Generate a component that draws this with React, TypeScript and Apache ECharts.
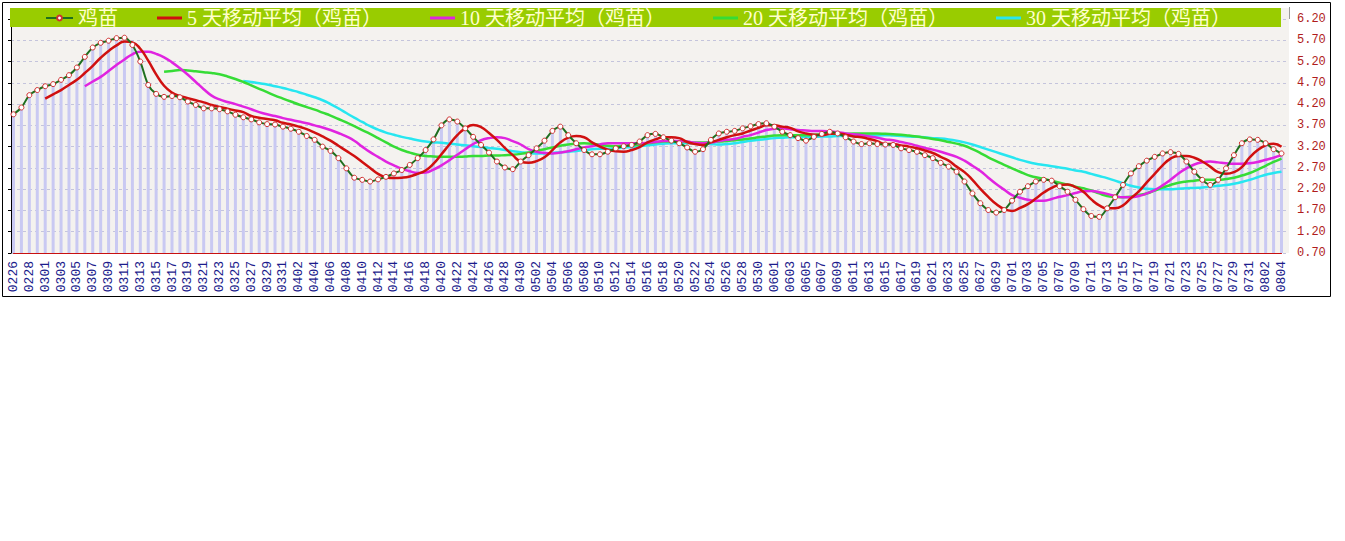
import React, { useEffect, useRef } from "react";
import * as echarts from "echarts";

const dates = (
  "0226 0227 0228 0229 " +
  "0301 0302 0303 0304 0305 0306 0307 0308 0309 0310 0311 0312 0313 0314 0315 0316 0317 0318 0319 0320 0321 0322 0323 0324 0325 0326 0327 0328 0329 0330 0331 " +
  "0401 0402 0403 0404 0405 0406 0407 0408 0409 0410 0411 0412 0413 0414 0415 0416 0417 0418 0419 0420 0421 0422 0423 0424 0425 0426 0427 0428 0429 0430 " +
  "0501 0502 0503 0504 0505 0506 0507 0508 0509 0510 0511 0512 0513 0514 0515 0516 0517 0518 0519 0520 0521 0522 0523 0524 0525 0526 0527 0528 0529 0530 0531 " +
  "0601 0602 0603 0604 0605 0606 0607 0608 0609 0610 0611 0612 0613 0614 0615 0616 0617 0618 0619 0620 0621 0622 0623 0624 0625 0626 0627 0628 0629 0630 " +
  "0701 0702 0703 0704 0705 0706 0707 0708 0709 0710 0711 0712 0713 0714 0715 0716 0717 0718 0719 0720 0721 0722 0723 0724 0725 0726 0727 0728 0729 0730 0731 " +
  "0801 0802 0803 0804"
).split(" ");

// 鸡苗 daily price
const jimiao = [
  3.96, 4.12, 4.41, 4.53, 4.62, 4.67, 4.77, 4.88, 5.06, 5.31,
  5.53, 5.64, 5.69, 5.75, 5.76, 5.59, 5.2, 4.65, 4.44, 4.37,
  4.39, 4.36, 4.26, 4.18, 4.1, 4.1, 4.08, 4.03, 3.95, 3.89,
  3.84, 3.77, 3.73, 3.72, 3.67, 3.62, 3.55, 3.45, 3.36, 3.2,
  3.1, 2.93, 2.69, 2.47, 2.42, 2.38, 2.43, 2.49, 2.57, 2.65,
  2.77, 2.93, 3.12, 3.37, 3.7, 3.84, 3.79, 3.63, 3.43, 3.24,
  3.06, 2.85, 2.71, 2.67, 2.85, 3.0, 3.16, 3.34, 3.57, 3.67,
  3.47, 3.28, 3.12, 3.02, 3.02, 3.08, 3.16, 3.21, 3.24, 3.32,
  3.47, 3.5, 3.42, 3.34, 3.28, 3.18, 3.08, 3.14, 3.36, 3.51,
  3.55, 3.57, 3.63, 3.68, 3.73, 3.75, 3.67, 3.55, 3.47, 3.4,
  3.34, 3.43, 3.5, 3.55, 3.51, 3.42, 3.32, 3.26, 3.28, 3.26,
  3.25, 3.24, 3.16, 3.12, 3.08, 3.0, 2.93, 2.82, 2.73, 2.61,
  2.38, 2.1, 1.87, 1.71, 1.65, 1.71, 1.93, 2.14, 2.27, 2.38,
  2.42, 2.4, 2.27, 2.14, 1.95, 1.73, 1.57, 1.55, 1.75, 2.01,
  2.3, 2.57, 2.74, 2.87, 2.96, 3.04, 3.07, 3.03, 2.85, 2.61,
  2.42, 2.3, 2.42, 2.69, 3.0, 3.28, 3.37, 3.36, 3.28, 3.14,
  3.04,
];

// moving averages, each starting at its first available day
const ma5Start = 4;
const ma5 = [
  4.33, 4.43, 4.53, 4.65, 4.77, 4.93, 5.1, 5.29, 5.45, 5.58,
  5.67, 5.65, 5.5, 5.22, 4.9, 4.63, 4.47, 4.39, 4.34, 4.29,
  4.24, 4.18, 4.13, 4.09, 4.05, 4.01, 3.92, 3.88, 3.85, 3.82,
  3.76, 3.72, 3.67, 3.61, 3.53, 3.44, 3.34, 3.22, 3.1, 2.98,
  2.84, 2.7, 2.56, 2.48, 2.46, 2.47, 2.5, 2.56, 2.64, 2.8,
  3.02, 3.25, 3.47, 3.63, 3.71, 3.66, 3.52, 3.36, 3.17, 3.0,
  2.85, 2.82, 2.86, 2.95, 3.12, 3.3, 3.41, 3.45, 3.42, 3.3,
  3.2, 3.13, 3.09, 3.08, 3.12, 3.19, 3.3, 3.37, 3.42, 3.42,
  3.4, 3.31, 3.26, 3.24, 3.3, 3.36, 3.42, 3.47, 3.51, 3.58,
  3.64, 3.7, 3.7, 3.67, 3.64, 3.56, 3.51, 3.48, 3.47, 3.5,
  3.51, 3.48, 3.44, 3.42, 3.38, 3.33, 3.26, 3.26, 3.23, 3.2,
  3.16, 3.11, 3.05, 2.96, 2.87, 2.73, 2.6, 2.42, 2.21, 2.02,
  1.85, 1.73, 1.69, 1.76, 1.85, 1.98, 2.12, 2.23, 2.3, 2.31,
  2.25, 2.14, 1.96, 1.82, 1.75, 1.75, 1.82, 1.99, 2.15, 2.36,
  2.56, 2.76, 2.92, 2.98, 2.98, 2.94, 2.85, 2.73, 2.6, 2.56,
  2.6, 2.72, 2.95, 3.12, 3.23, 3.27, 3.2,
];

const ma10Start = 9;
const ma10 = [
  4.62, 4.73, 4.84, 4.98, 5.12, 5.25, 5.37, 5.43, 5.43, 5.38,
  5.3, 5.18, 5.04, 4.89, 4.72, 4.55, 4.4, 4.31, 4.25, 4.2,
  4.14, 4.08, 4.01, 3.96, 3.92, 3.87, 3.83, 3.79, 3.75, 3.7,
  3.65, 3.59, 3.52, 3.44, 3.34, 3.2, 3.07, 2.96, 2.85, 2.76,
  2.68, 2.62, 2.58, 2.59, 2.66, 2.76, 2.88, 3.01, 3.14, 3.26,
  3.35, 3.4, 3.42, 3.4, 3.33, 3.25, 3.14, 3.08, 3.05, 3.04,
  3.06, 3.09, 3.14, 3.18, 3.21, 3.25, 3.28, 3.28, 3.28, 3.28,
  3.28, 3.29, 3.31, 3.33, 3.34, 3.33, 3.32, 3.29, 3.28, 3.3,
  3.33, 3.36, 3.38, 3.43, 3.47, 3.53, 3.59, 3.62, 3.63, 3.61,
  3.59, 3.58, 3.57, 3.57, 3.56, 3.54, 3.51, 3.49, 3.47, 3.44,
  3.41, 3.37, 3.35, 3.31, 3.27, 3.22, 3.17, 3.13, 3.08, 3.02,
  2.96, 2.87, 2.75, 2.63, 2.47, 2.32, 2.19, 2.06, 2.0, 1.95,
  1.93, 1.93, 1.97, 2.02, 2.06, 2.11, 2.15, 2.16, 2.13, 2.09,
  2.04, 2.01, 2.01, 2.04, 2.1, 2.18, 2.29, 2.42, 2.57, 2.69,
  2.78, 2.83, 2.85, 2.83, 2.81, 2.8, 2.8, 2.81, 2.84, 2.89,
  2.94, 3.0,
];

const ma20Start = 19;
const ma20 = [
  4.96, 4.98, 5.0, 4.99, 4.97, 4.95, 4.93, 4.9, 4.85, 4.79,
  4.72, 4.64, 4.56, 4.48, 4.4, 4.33, 4.26, 4.19, 4.13, 4.07,
  4.0, 3.93, 3.85, 3.77, 3.68, 3.59, 3.5, 3.4, 3.3, 3.2,
  3.12, 3.06, 3.01, 2.98, 2.97, 2.96, 2.96, 2.96, 2.97, 2.98,
  2.98, 2.99, 2.99, 3.0, 3.01, 3.03, 3.06, 3.1, 3.14, 3.18,
  3.22, 3.25, 3.27, 3.28, 3.27, 3.24, 3.22, 3.21, 3.22, 3.23,
  3.25, 3.28, 3.3, 3.32, 3.32, 3.32, 3.31, 3.3, 3.3, 3.31,
  3.32, 3.33, 3.35, 3.37, 3.39, 3.42, 3.44, 3.46, 3.47, 3.47,
  3.47, 3.47, 3.48, 3.49, 3.5, 3.5, 3.5, 3.51, 3.51, 3.51,
  3.51, 3.5, 3.49, 3.48, 3.46, 3.44, 3.41, 3.38, 3.35, 3.31,
  3.27, 3.22, 3.14, 3.05, 2.95, 2.86, 2.77, 2.69, 2.61, 2.53,
  2.48, 2.44, 2.4, 2.35, 2.31, 2.26, 2.22, 2.17, 2.1, 2.04,
  2.02, 2.01, 2.02, 2.06, 2.1, 2.17, 2.24, 2.3, 2.35, 2.38,
  2.4, 2.42, 2.42, 2.42, 2.44, 2.47, 2.52, 2.58, 2.66, 2.75,
  2.84, 2.92,
];

const ma30Start = 29;
const ma30 = [
  4.74, 4.72, 4.69, 4.66, 4.62, 4.58, 4.53, 4.48, 4.42, 4.36,
  4.29, 4.2, 4.1, 3.99, 3.88, 3.78, 3.68, 3.6, 3.53, 3.48,
  3.43, 3.39, 3.35, 3.32, 3.3, 3.29, 3.27, 3.25, 3.23, 3.21,
  3.19, 3.17, 3.15, 3.12, 3.09, 3.07, 3.05, 3.04, 3.04, 3.05,
  3.07, 3.08, 3.1, 3.12, 3.14, 3.15, 3.15, 3.16, 3.18, 3.19,
  3.21, 3.23, 3.25, 3.27, 3.28, 3.28, 3.28, 3.28, 3.27, 3.26,
  3.25, 3.26, 3.28, 3.31, 3.34, 3.36, 3.38, 3.4, 3.41, 3.42,
  3.42, 3.43, 3.43, 3.44, 3.44, 3.45, 3.45, 3.45, 3.45, 3.46,
  3.46, 3.47, 3.46, 3.45, 3.44, 3.43, 3.42, 3.4, 3.39, 3.37,
  3.34, 3.3, 3.25, 3.19, 3.13, 3.07, 3.01, 2.95, 2.89, 2.84,
  2.8, 2.77, 2.74, 2.71, 2.68, 2.64, 2.61, 2.56, 2.51, 2.46,
  2.4, 2.34, 2.28, 2.24, 2.21, 2.2, 2.2, 2.2, 2.21, 2.22,
  2.23, 2.24, 2.26, 2.28, 2.3, 2.33, 2.37, 2.42, 2.48, 2.54,
  2.58, 2.61,
];

const seriesNames = [
  "鸡苗",
  "5 天移动平均（鸡苗）",
  "10 天移动平均（鸡苗）",
  "20 天移动平均（鸡苗）",
  "30 天移动平均（鸡苗）",
];
const seriesColors = ["#1f6f1f", "#d01010", "#e024e0", "#36dc36", "#27e6f0"];
const legendLefts = [45, 157, 430, 713, 996];

const Y_MIN = 0.7;
const Y_MAX = 6.2;
const Y_STEP = 0.5;

export default function App() {
  const ref = useRef<HTMLDivElement>(null);

  useEffect(() => {
    if (!ref.current) return;
    const chart = echarts.init(ref.current, null, { renderer: "svg" });
    const pad = (n: number, arr: number[]) =>
      (new Array(n).fill(null) as (number | null)[]).concat(arr);

    const maList = [
      pad(ma5Start, ma5),
      pad(ma10Start, ma10),
      pad(ma20Start, ma20),
      pad(ma30Start, ma30),
    ];

    const legendFont = "'Liberation Serif', 'Noto Sans CJK SC', serif";

    chart.setOption({
      animation: false,
      backgroundColor: "#ffffff",
      grid: [
        { left: 13.5, top: 19, width: 1268, height: 234 },
        {
          left: 11,
          top: 19,
          width: 1278,
          height: 234,
          show: true,
          backgroundColor: "#f4f2ef",
          borderWidth: 0,
        },
      ],
      xAxis: [
        {
          type: "category",
          gridIndex: 0,
          data: dates,
          boundaryGap: false,
          axisLine: { lineStyle: { color: "#c81010", width: 1 } },
          axisTick: {
            show: true,
            inside: true,
            length: 5,
            interval: 0,
            lineStyle: { color: "#c81010" },
          },
          axisLabel: {
            interval: 1,
            rotate: 90,
            color: "#1c1c8c",
            fontFamily: "'Liberation Mono', monospace",
            fontSize: 13,
            margin: 8,
          },
          splitLine: { show: false },
        },
        { type: "value", gridIndex: 1, show: false, min: 0, max: 1 },
      ],
      yAxis: [
        {
          type: "value",
          gridIndex: 0,
          min: Y_MIN,
          max: Y_MAX,
          interval: Y_STEP,
          show: false,
        },
        {
          type: "value",
          gridIndex: 1,
          position: "right",
          min: Y_MIN,
          max: Y_MAX,
          interval: Y_STEP,
          axisLine: { show: true, lineStyle: { color: "#9a9a9a" } },
          axisTick: { show: false },
          axisLabel: {
            color: "#b01c1c",
            fontFamily: "'Liberation Mono', monospace",
            fontSize: 12,
            margin: 8,
            formatter: (v: number) => v.toFixed(2),
          },
          splitLine: {
            show: true,
            lineStyle: { color: "#c4c4dc", type: [3, 3], width: 1 },
          },
        },
        {
          type: "value",
          gridIndex: 1,
          position: "left",
          min: Y_MIN,
          max: Y_MAX,
          interval: Y_STEP,
          axisLine: { show: true, lineStyle: { color: "#000000" } },
          axisTick: { show: true, length: 3, lineStyle: { color: "#000000" } },
          axisLabel: { show: false },
          splitLine: { show: false },
        },
      ],
      legend: seriesNames.map((name, i) =>
        i === 0
          ? {
              data: [name],
              left: legendLefts[i],
              top: 8,
              padding: 0,
              itemWidth: 27,
              itemHeight: 6,
              itemGap: 0,
              selectedMode: false,
              textStyle: { color: "#ffffcc", fontSize: 20, fontFamily: legendFont },
            }
          : {
              data: [name],
              left: legendLefts[i],
              top: 8,
              padding: 0,
              icon: "rect",
              itemWidth: 25,
              itemHeight: 3,
              selectedMode: false,
              textStyle: { color: "#ffffcc", fontSize: 20, fontFamily: legendFont },
            }
      ),
      graphic: [
        {
          type: "rect",
          z: -10,
          shape: { x: 11, y: 8, width: 1278, height: 11 },
          style: { fill: "#f4f2ef" },
        },
        {
          type: "line",
          z: 0,
          shape: { x1: 1289.5, y1: 7, x2: 1289.5, y2: 19 },
          style: { stroke: "#9a9a9a", lineWidth: 1 },
        },
        {
          type: "rect",
          z: 3,
          shape: { x: 10, y: 8, width: 1271, height: 19 },
          style: { fill: "#99cc00" },
        },
        {
          type: "rect",
          z: 10,
          shape: { x: 2.5, y: 2.5, width: 1328, height: 294 },
          style: { fill: "none", stroke: "#000000", lineWidth: 1 },
        },
      ],
      series: [
        {
          name: "鸡苗柱",
          type: "bar",
          xAxisIndex: 0,
          yAxisIndex: 0,
          data: jimiao,
          barWidth: 3,
          itemStyle: { color: "#c9c9f2" },
          z: 1,
        },
        {
          name: seriesNames[0],
          type: "line",
          xAxisIndex: 0,
          yAxisIndex: 0,
          data: jimiao,
          smooth: 0.3,
          symbol: "circle",
          symbolSize: 5,
          showSymbol: true,
          lineStyle: { color: seriesColors[0], width: 2 },
          itemStyle: { color: "#ffffff", borderColor: "#d03030", borderWidth: 1 },
          z: 5,
        },
        ...maList.map((d, k) => ({
          name: seriesNames[k + 1],
          type: "line",
          xAxisIndex: 0,
          yAxisIndex: 0,
          data: d,
          smooth: true,
          symbol: "none",
          lineStyle: { color: seriesColors[k + 1], width: 2.5 },
          itemStyle: { color: seriesColors[k + 1] },
          z: 4 - k * 0.1,
        })),
      ],
    });

    return () => chart.dispose();
  }, []);

  return (
    <div
      ref={ref}
      style={{
        position: "absolute",
        left: 0,
        top: 0,
        width: 1345,
        height: 541,
        background: "#ffffff",
      }}
    />
  );
}
